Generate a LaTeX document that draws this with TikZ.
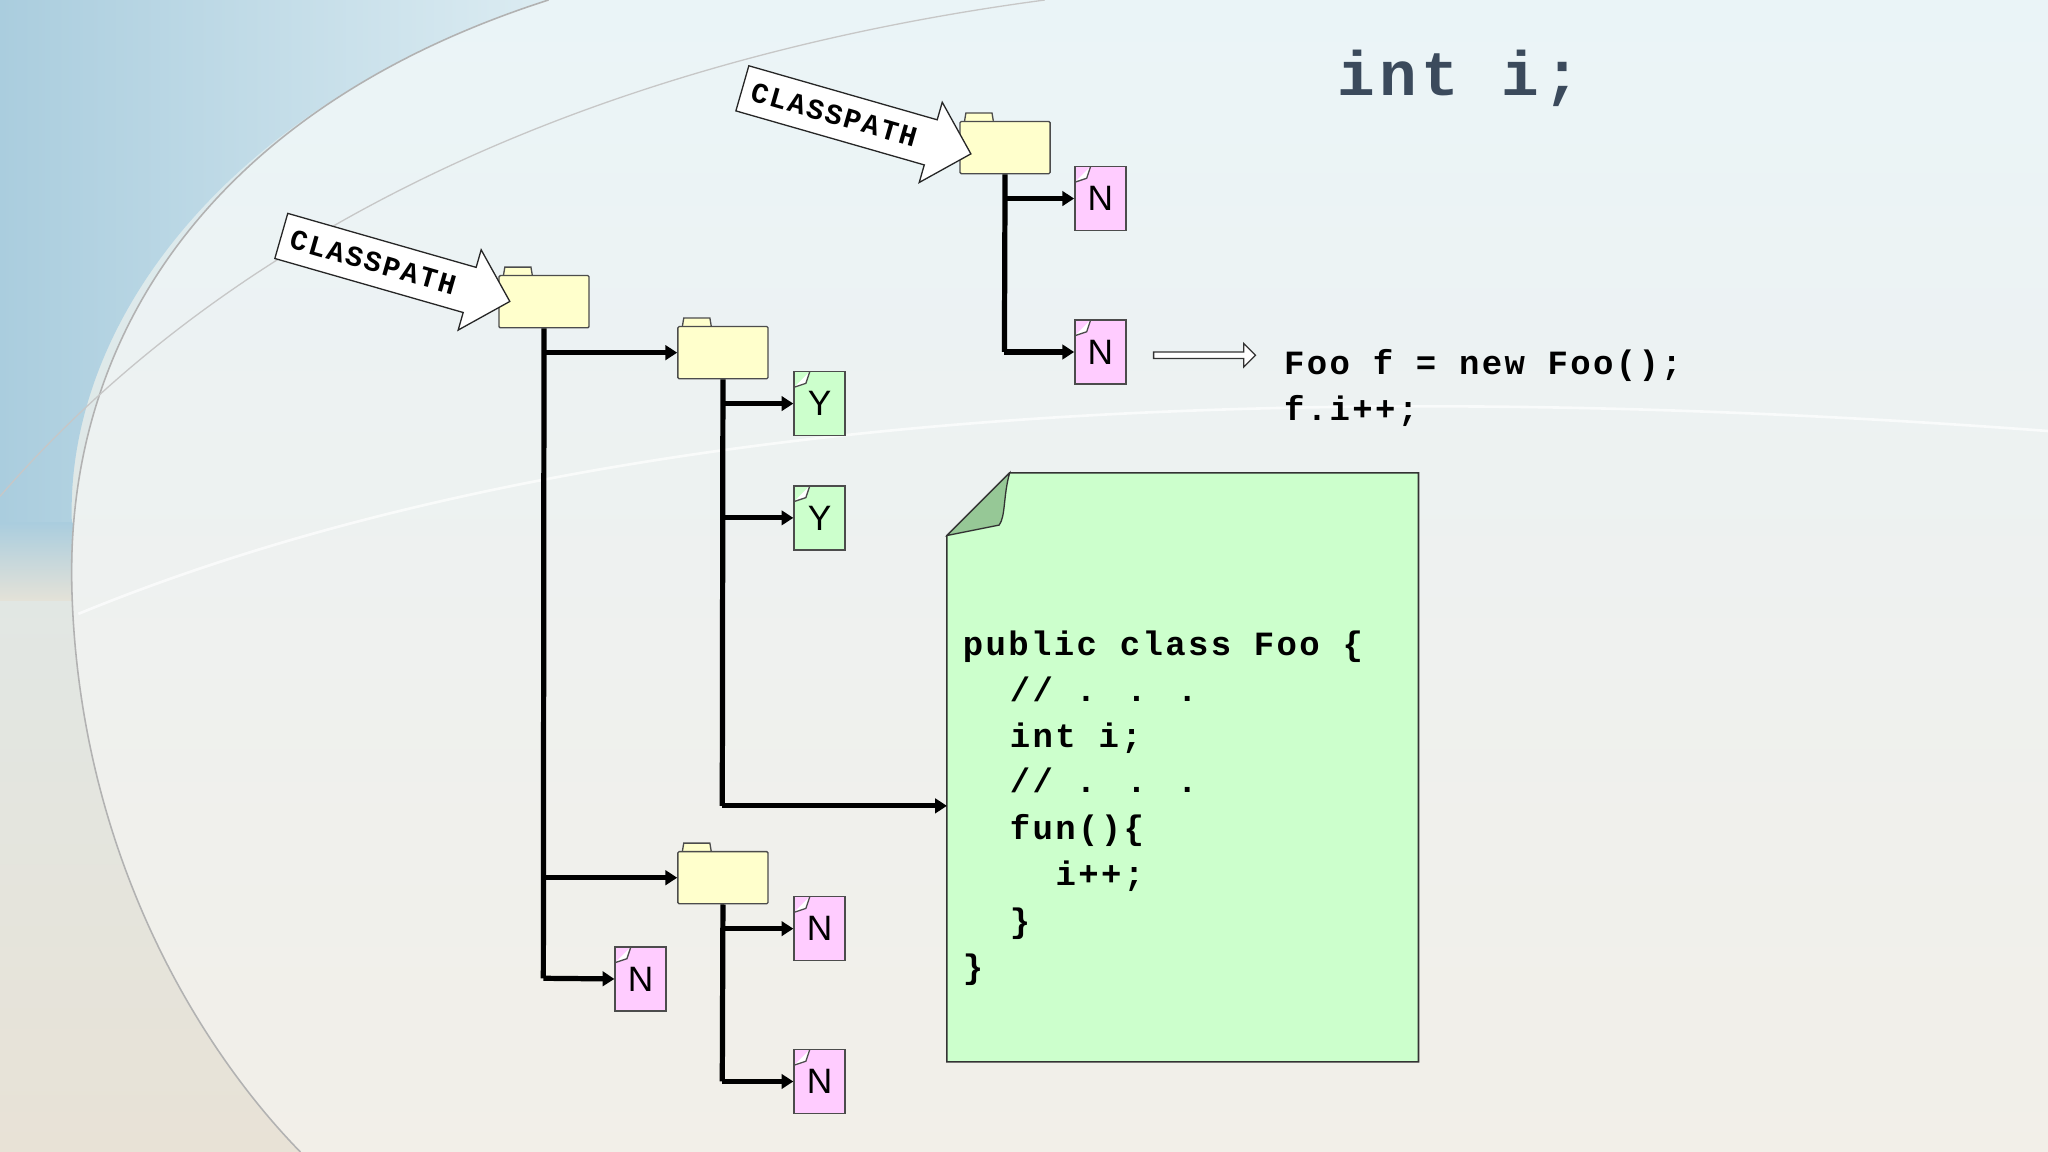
\documentclass[tikz,border=0pt]{standalone}
\usepackage{fontspec}
\setmainfont{Liberation Sans}
\newfontfamily\mono{Liberation Mono}[LetterSpace=7]
\usetikzlibrary{shapes.arrows,arrows.meta}
\definecolor{fold}{HTML}{FFFFCC}
\definecolor{nfile}{HTML}{FFCCFF}
\definecolor{yfile}{HTML}{CCFFCC}
\definecolor{doc}{HTML}{CCFFCC}
\definecolor{inttxt}{HTML}{3B4A5C}
\begin{document}
\begin{tikzpicture}[x=1pt,y=-1pt,
  folder/.style={draw=black!70,fill=fold,minimum width=69pt,minimum height=40pt,inner sep=0pt,rounded corners=1pt,line width=1pt,
    append after command={\pgfextra{\draw[draw=black!70,fill=fold,line width=1pt] ([xshift=4pt]\tikzlastnode.north west) -- ++(1,-6) -- ++(20,0) -- ++(1,6);}}},
  file/.style={draw=black!70,minimum width=39pt,minimum height=49pt,inner sep=0pt,font=\fontsize{27}{27}\selectfont,line width=1.2pt,
    path picture={\draw[black!70,fill=white,line width=1pt] ([yshift=-12pt]path picture bounding box.north west) -- ++(9,-3) -- ++(3,-9);}},
  nf/.style={file,fill=nfile},
  yf/.style={file,fill=yfile},
  br/.style={line width=4pt},
  ar/.style={line width=4pt,-{Triangle[length=9pt,width=11pt]}},
  cp/.style={single arrow,draw=black!85,fill=white,line width=1pt,single arrow head extend=14pt,
    minimum height=182pt,inner xsep=4pt,inner ysep=10pt,font=\mono\bfseries\fontsize{22}{22}\selectfont,
    anchor=tip},
  code/.style={font=\mono\bfseries\fontsize{26}{26}\selectfont,anchor=base west,inner sep=0pt}
]
\useasboundingbox (0,0) rectangle (1568,882);
% background
\shade[top color={rgb,255:red,218;green,236;blue,242},bottom color={rgb,255:red,232;green,226;blue,214}] (0,0) rectangle (1568,882);
\shade[left color={rgb,255:red,170;green,205;blue,222},right color={rgb,255:red,220;green,236;blue,242}] (0,0) -- (420,0) .. controls (170,80) and (50,250) .. (55,400) -- (0,400) -- cycle;
\shade[top color={rgb,255:red,170;green,205;blue,222},bottom color={rgb,255:red,228;green,226;blue,216}] (0,400) rectangle (55.5,460);
\fill[white,opacity=0.45] (1568,0) -- (420,0) .. controls (170,80) and (50,250) .. (55,450) .. controls (60,650) and (150,800) .. (230,882) -- (1568,882) -- cycle;
\draw[black!30,line width=1.2pt] (420,0) .. controls (170,80) and (50,250) .. (55,450) .. controls (60,650) and (150,800) .. (230,882);
\draw[black!22,line width=1pt] (0,380) .. controls (200,150) and (500,40) .. (800,0);
\draw[white,line width=2pt,opacity=0.7] (60,470) .. controls (400,330) and (900,280) .. (1568,330);

% title
\node[font=\mono\bfseries\fontsize{48}{48}\selectfont,text=inttxt,anchor=base west,inner sep=0pt] (title) at (1024,73) {int i;};

% folders
\node[folder] (f1) at (416.5,231) {};
\node[folder] (f2) at (553.5,270) {};
\node[folder] (f3) at (553.5,672) {};
\node[folder] (ft) at (769.5,113) {};
% files
\node[nf] (nt1) at (842.5,152) {N};
\node[nf] (nt2) at (842.5,269.5) {N};
\node[yf] (y1) at (627.5,309) {Y};
\node[yf] (y2) at (627.5,396.5) {Y};
\node[nf] (nb1) at (627.5,711) {N};
\node[nf] (nb2) at (627.5,828) {N};
\node[nf] (nl) at (490.5,749.5) {N};

% classpath arrows
\node[cp,rotate=-16] (cp1) at (391,231) {CLASSPATH\hspace*{18pt}};
\node[cp,rotate=-16] (cp2) at (744,118) {CLASSPATH\hspace*{18pt}};

% document
\draw[black!80,fill=doc,line width=1.2pt] (773,362) -- (1086,362) -- (1086,813) -- (725,813) -- (725,410) -- cycle;
\draw[black!80,fill={rgb,255:red,150;green,200;blue,150},line width=1pt] (725,410) -- (773,362) .. controls (768,380) and (770,395) .. (765,402) -- cycle;
\coordinate (docin) at (725,617);
\node[code] (c1) at (737,502) {public class Foo \{};
\node[code] (c2) at (773,537) {// . . .};
\node[code] (c3) at (773,572) {int i;};
\node[code] (c4) at (773,607) {// . . .};
\node[code] (c5) at (773,643) {fun()\{};
\node[code] (c6) at (808,678) {i++;};
\node[code] (c7) at (773,714) {\}};
\node[code] (c8) at (737,749) {\}};

% code right
\node[code] (r1) at (983,287) {Foo f = new Foo();};
\node[code] (r2) at (983,322) {f.i++;};
\node[single arrow,draw=black!80,fill=white,minimum height=78pt,minimum width=18pt,single arrow head extend=4pt,inner sep=1pt,line width=1pt] (ha) at (921,272) {};

% tree lines
\draw[br] (f1.south) -- (416,749);
\draw[ar] (416,270) -- (f2.west);
\draw[ar] (416,672) -- (f3.west);
\draw[ar] (416,749) -- (nl.west);
\draw[br] (f2.south) -- (553,617);
\draw[ar] (553,309) -- (y1.west);
\draw[ar] (553,396.5) -- (y2.west);
\draw[ar] (553,617) -- (docin);
\draw[br] (f3.south) -- (553,828);
\draw[ar] (553,711) -- (nb1.west);
\draw[ar] (553,828) -- (nb2.west);
\draw[br] (ft.south) -- (769,269.5);
\draw[ar] (769,152) -- (nt1.west);
\draw[ar] (769,269.5) -- (nt2.west);
\end{tikzpicture}
\end{document}
